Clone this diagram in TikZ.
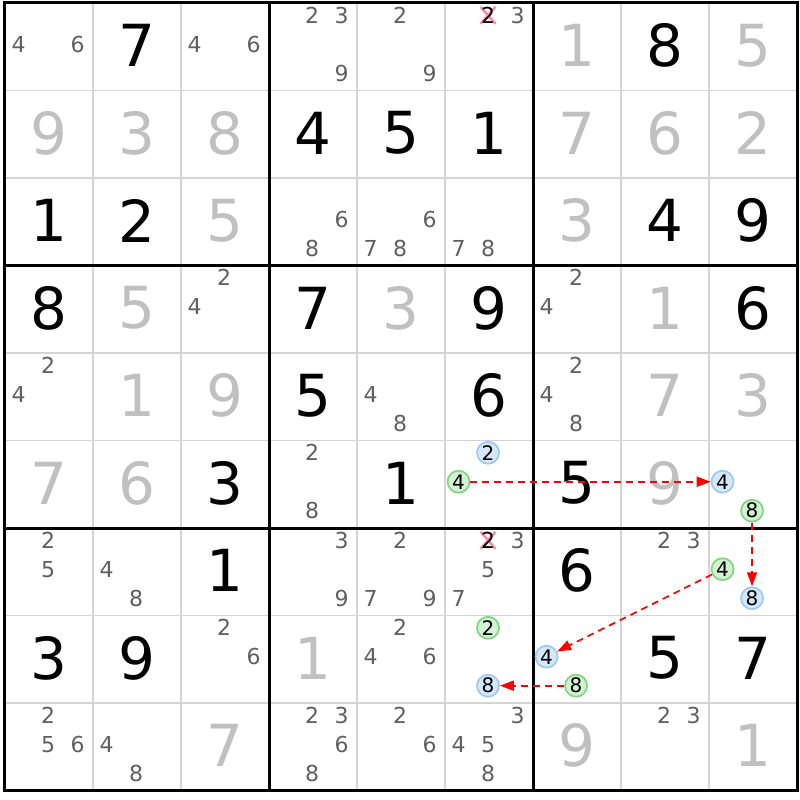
\documentclass[tikz,border=0pt]{standalone}
\usepackage{fontspec}
\setmainfont{DejaVu Sans}
\usetikzlibrary{arrows.meta}

\definecolor{gridgray}{HTML}{D4D4D4}
\definecolor{solvedgray}{HTML}{C0C0C0}
\definecolor{candgray}{HTML}{5F5F5F}
\definecolor{onfill}{HTML}{D5E8FB}
\definecolor{ondraw}{HTML}{9CC8F2}
\definecolor{offfill}{HTML}{D3F1D3}
\definecolor{offdraw}{HTML}{7ED77E}
\definecolor{crosspink}{HTML}{FF8C9E}

\tikzset{
  given/.style={inner sep=0pt, font=\fontsize{58}{58}\selectfont},
  solved/.style={given, text=solvedgray},
  cand/.style={inner sep=0pt, text=candgray, font=\fontsize{22}{22}\selectfont},
  oncand/.style={circle, inner sep=0pt, minimum size=22pt, line width=1.7pt,
    draw=ondraw, fill=onfill, font=\fontsize{20}{20}\selectfont},
  offcand/.style={oncand, draw=offdraw, fill=offfill},
  link/.style={red, line width=1.7pt, dash pattern=on 7pt off 5pt,
    -{Triangle[length=14pt,width=10pt]}}
}

\begin{document}
\begin{tikzpicture}[x=88pt, y=-87.5pt]
\useasboundingbox (-5pt,3pt) rectangle (795pt,-797pt);

% thin cell lines
\foreach \i in {1,2,4,5,7,8} {
  \draw[gridgray, line width=1.6pt] (\i,0) -- (\i,9);
  \draw[gridgray, line width=1.6pt] (0,\i) -- (9,\i);
}
% box lines
\draw[line width=3pt] (0,0) rectangle (9,9);
\foreach \i in {3,6} {
  \draw[line width=3pt] (\i,0) -- (\i,9);
  \draw[line width=3pt] (0,\i) -- (9,\i);
}

% given digits
\foreach \r/\c/\d in {1/2/7, 1/8/8, 2/4/4, 2/5/5, 2/6/1, 3/1/1, 3/2/2, 3/8/4,
    3/9/9, 4/1/8, 4/4/7, 4/6/9, 4/9/6, 5/4/5, 5/6/6, 6/3/3, 6/5/1, 6/7/5,
    7/3/1, 7/7/6, 8/1/3, 8/2/9, 8/8/5, 8/9/7}
  \node[given] (g\r\c) at (\c-0.5,\r-0.514) {\d};

% solved digits
\foreach \r/\c/\d in {1/7/1, 1/9/5, 2/1/9, 2/2/3, 2/3/8, 2/7/7, 2/8/6, 2/9/2,
    3/3/5, 3/7/3, 4/2/5, 4/5/3, 4/8/1, 5/2/1, 5/3/9, 5/8/7, 5/9/3, 6/1/7,
    6/2/6, 6/8/9, 8/4/1, 9/3/7, 9/7/9, 9/9/1}
  \node[solved] (s\r\c) at (\c-0.5,\r-0.514) {\d};

% candidates
\foreach \r/\c/\d [evaluate=\d as \px using {\c-0.511+0.335*(mod(\d-1,3)-1)},
    evaluate=\d as \py using {\r-0.529+0.331*(int((\d-1)/3)-1)}] in
    {1/1/4, 1/1/6, 1/3/4, 1/3/6, 1/4/2, 1/4/3, 1/4/9, 1/5/2, 1/5/9, 1/6/3,
     3/4/6, 3/4/8, 3/5/6, 3/5/7, 3/5/8, 3/6/7, 3/6/8,
     4/3/2, 4/3/4, 4/7/2, 4/7/4,
     5/1/2, 5/1/4, 5/5/4, 5/5/8, 5/7/2, 5/7/4, 5/7/8,
     6/4/2, 6/4/8,
     7/1/2, 7/1/5, 7/2/4, 7/2/8, 7/4/3, 7/4/9, 7/5/2, 7/5/7, 7/5/9,
     7/6/3, 7/6/5, 7/6/7, 7/8/2, 7/8/3,
     8/3/2, 8/3/6, 8/5/2, 8/5/4, 8/5/6,
     9/1/2, 9/1/5, 9/1/6, 9/2/4, 9/2/8, 9/4/2, 9/4/3, 9/4/6, 9/4/8,
     9/5/2, 9/5/6, 9/6/3, 9/6/4, 9/6/5, 9/6/8, 9/8/2, 9/8/3}
  \node[cand] (k\r\c\d) at (\px,\py) {\d};

% eliminated candidates
\foreach \r/\c/\d [evaluate=\d as \px using {\c-0.511+0.335*(mod(\d-1,3)-1)},
    evaluate=\d as \py using {\r-0.529+0.331*(int((\d-1)/3)-1)}] in
    {1/6/2, 7/6/2} {
  \coordinate (x\r\c) at (\px,\py);
  \draw[crosspink, line width=2.5pt] ([shift={(-7.5pt,8.5pt)}]x\r\c) -- ([shift={(7.5pt,-8.5pt)}]x\r\c);
  \draw[crosspink, line width=2.5pt] ([shift={(-7.5pt,-8.5pt)}]x\r\c) -- ([shift={(7.5pt,8.5pt)}]x\r\c);
  \node[cand, text=black] (k\r\c\d) at (x\r\c) {\d};
}

% chain candidates
\foreach \r/\c/\d [evaluate=\d as \px using {\c-0.511+0.335*(mod(\d-1,3)-1)},
    evaluate=\d as \py using {\r-0.529+0.331*(int((\d-1)/3)-1)}] in
    {6/6/2, 6/9/4, 7/9/8, 8/7/4, 8/6/8}
  \node[oncand] (on\r\c\d) at (\px,\py) {\d};
\foreach \r/\c/\d [evaluate=\d as \px using {\c-0.511+0.335*(mod(\d-1,3)-1)},
    evaluate=\d as \py using {\r-0.529+0.331*(int((\d-1)/3)-1)}] in
    {6/6/4, 6/9/8, 7/9/4, 8/7/8, 8/6/2}
  \node[offcand] (off\r\c\d) at (\px,\py) {\d};

% links
\draw[link] (off664) -- (on694);
\draw[link] (off698) -- (on798);
\draw[link] (off794) -- (on874);
\draw[link] (off878) -- (on868);
\end{tikzpicture}
\end{document}
